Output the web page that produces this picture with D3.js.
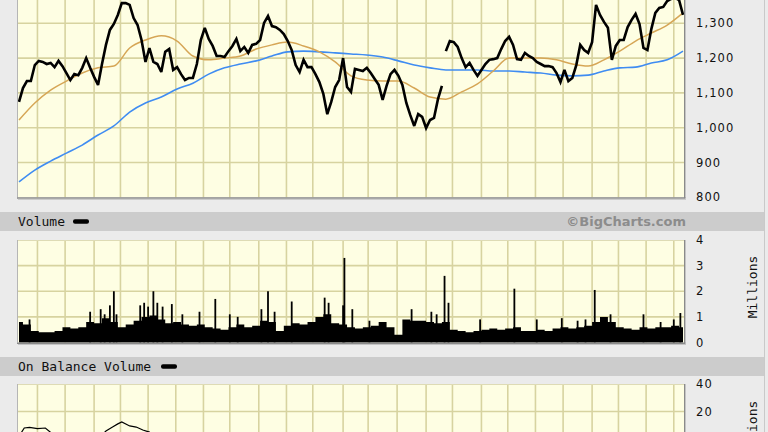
<!DOCTYPE html>
<html><head><meta charset="utf-8">
<script src="https://cdn.jsdelivr.net/npm/d3@7"></script>
<style>
html,body{margin:0;padding:0;background:#ebebeb;overflow:hidden}
svg{display:block}
</style></head><body>
<svg id="c" width="768" height="432"></svg>
<script>
// ---- data ----
const totalDays = 504;
const priceStepDays = 3;
const closes = [
1074,1114,1134,1134,1180,1192,1189,1183,1186,1174,
1192,1177,1157,1137,1154,1151,1172,1200,1172,1146,
1123,1183,1238,1281,1298,1324,1358,1358,1353,1315,
1295,1252,1189,1229,1189,1183,1160,1218,1226,1166,
1174,1154,1137,1143,1143,1183,1252,1287,1255,1235,
1206,1206,1203,1220,1235,1255,1220,1232,1215,1238,
1241,1252,1301,1321,1292,1289,1281,1269,1249,1223,
1180,1160,1195,1174,1174,1154,1131,1097,1039,1074,
1117,1137,1200,1117,1103,1169,1166,1163,1172,1157,
1140,1123,1080,1120,1154,1166,1149,1123,1071,1036,
1005,1039,1031,999,1022,1028,1082,1120,1220,1249,
1246,1232,1200,1174,1186,1166,1149,1166,1183,1195,
1197,1200,1226,1249,1261,1238,1197,1195,1215,1206,
1200,1189,1183,1177,1177,1174,1157,1131,1166,1134,
1143,1180,1238,1223,1215,1246,1353,1324,1304,1287,
1195,1235,1252,1252,1289,1310,1327,1298,1229,1223,
1284,1330,1344,1347,1364,1370,1373,1367,1324];
const priceGapAfterIndex = [107];
const maStepDays = 12;
const ma50 = [1022,1071,1108,1134,1157,1172,1177,1229,1252,1264,1249,1206,1195,1200,1206,1226,1238,1246,1235,1218,1189,1149,1137,1134,1134,1114,1088,1082,1103,1126,1163,1200,1200,1200,1195,1183,1177,1195,1220,1249,1272,1295,1330];
const ma200 = [844,878,904,927,950,979,1005,1045,1071,1088,1111,1128,1154,1172,1183,1192,1206,1218,1220,1218,1215,1212,1209,1203,1192,1180,1172,1166,1166,1166,1163,1163,1160,1157,1151,1149,1151,1163,1172,1174,1186,1195,1220];
const volStepDays = 6;
const volBase = [
0.8,0.7,0.45,0.4,0.4,0.45,0.6,0.55,0.6,0.8,
0.75,0.95,0.8,0.6,0.7,0.85,1.0,1.05,0.9,0.75,
0.8,0.7,0.65,0.7,0.6,0.55,0.5,0.6,0.7,0.6,
0.65,0.85,0.8,0.45,0.65,0.75,0.7,0.8,1.0,1.1,
0.75,0.7,0.6,0.55,0.6,0.65,0.8,0.6,0.3,0.9,
0.85,0.85,0.8,0.75,0.8,0.5,0.45,0.4,0.45,0.5,
0.55,0.5,0.55,0.6,0.45,0.45,0.5,0.45,0.55,0.6,
0.55,0.6,0.65,0.8,1.0,0.8,0.6,0.55,0.5,0.6,
0.55,0.6,0.6,0.65,0.6];
const volSpikeDays = [8,54,62,65,69,72,74,92,95,98,102,105,109,116,124,137,149,160,166,184,189,194,207,232,235,246,247,253,266,298,313,317,323,326,350,376,393,412,424,430,437,449,474,487,497,502];
const volSpikeValues = [0.9,1.2,1.3,1.1,1.45,2.0,1.1,1.45,1.55,1.4,2.0,1.55,1.4,1.5,1.1,1.2,1.7,1.1,1.0,1.3,2.0,1.2,1.6,1.75,1.55,1.45,3.3,1.3,0.85,1.3,1.2,1.1,2.6,1.55,0.9,2.1,0.9,0.95,0.85,0.9,2.05,1.1,1.1,0.8,0.9,1.15];
const obvDays = [0,4,8,14,20,25,35,50,62,66,71,75,78,84,89,94,99,110,200,350,504];
const obvValues = [2,8,8.5,7.5,8,4,0,-2,2,5.8,8.7,11,12.4,9.5,8.7,6.5,5,-3,-8,-12,-15];
const monthStartDays = [14,35,57,77,98,119,140,160,182,203,223,246,265,287,309,329,351,371,392,413,435,455,476,497];
const priceTicks = [800,900,1000,1100,1200,1300];
const priceGrid = [900,1000,1100,1200,1300,1400];
const volTicks = [0,1,2,3,4];
const obvTicks = [20,40];

// ---- drawing ----
const svg = d3.select("#c");
const L = 18, R = 684;
const x = d3.scaleLinear().domain([0, totalDays]).range([19, 683]);
const yP = d3.scaleLinear().domain([800, 1400]).range([197.3, -11.5]);
const yV = d3.scaleLinear().domain([0, 4]).range([342.5, 240]);
const yO = d3.scaleLinear().domain([20, 40]).range([411.5, 384]);

const plotBg = "#fefee3", gridC = "#d7d3a0";
const monoFont = "'DejaVu Sans Mono', monospace";
const sansFont = "'DejaVu Sans', Verdana, sans-serif";

function panel(top, bottom, yScale, hGrid) {
  const g = svg.append("g");
  g.append("rect").attr("x", L).attr("y", top).attr("width", R - L).attr("height", bottom - top).attr("fill", plotBg);
  g.selectAll(".vg").data(monthStartDays).join("line")
    .attr("x1", d => x(d)).attr("x2", d => x(d)).attr("y1", top).attr("y2", bottom)
    .attr("stroke", gridC).attr("stroke-width", 1.6);
  g.selectAll(".hg").data(hGrid).join("line")
    .attr("x1", L).attr("x2", R).attr("y1", d => yScale(d)).attr("y2", d => yScale(d))
    .attr("stroke", gridC).attr("stroke-width", 1.6);
  return g;
}
function borders(top, bottom) {
  svg.append("line").attr("x1", L - 0.5).attr("x2", L - 0.5).attr("y1", top).attr("y2", bottom).attr("stroke", "#b5b5b5").attr("stroke-width", 1);
  svg.append("line").attr("x1", L).attr("x2", R).attr("y1", top + 0.5).attr("y2", top + 0.5).attr("stroke", "#dedbb5").attr("stroke-width", 1);
  svg.append("line").attr("x1", R + 0.7).attr("x2", R + 0.7).attr("y1", top).attr("y2", bottom + 1).attr("stroke", "#8a8a8a").attr("stroke-width", 1.4);
  svg.append("line").attr("x1", L - 1).attr("x2", R + 1.4).attr("y1", bottom + 0.7).attr("y2", bottom + 0.7).attr("stroke", "#8a8a8a").attr("stroke-width", 1.4);
  svg.append("line").attr("x1", L).attr("x2", R + 2).attr("y1", bottom + 2).attr("y2", bottom + 2).attr("stroke", "#c4c4c4").attr("stroke-width", 1);
}
function rightAxis(scale, ticks, fmt) {
  const ax = d3.axisRight(scale).tickValues(ticks).tickSize(0).tickPadding(12).tickFormat(fmt);
  const g = svg.append("g").attr("transform", `translate(${R},0)`).call(ax);
  g.select(".domain").remove();
  g.selectAll("text").attr("fill", "#111").style("font-family", sansFont).style("font-size", "11.5px").style("letter-spacing", "1.1px");
}
function header(y, label, dashX, extra) {
  svg.append("rect").attr("x", 0).attr("y", y).attr("width", 764).attr("height", 19).attr("fill", "#cccccc");
  svg.append("text").attr("x", 18).attr("y", y + 13.7).text(label)
    .style("font-family", monoFont).style("font-size", "13px").attr("fill", "#111");
  svg.append("rect").attr("x", dashX).attr("y", y + 7.2).attr("width", 16).attr("height", 4.6).attr("rx", 2).attr("fill", "#000");
  if (extra) {
    svg.append("text").attr("x", 686).attr("y", y + 13.7).attr("text-anchor", "end").text(extra)
      .style("font-family", sansFont).style("font-size", "13px").style("font-weight", "bold").attr("fill", "#8c8c8c");
  }
}
function millions(cy) {
  svg.append("text").attr("transform", `translate(757,${cy}) rotate(-90)`).attr("text-anchor", "middle")
    .text("Millions").style("font-family", monoFont).style("font-size", "13px").attr("fill", "#111");
}

// right separator
svg.append("line").attr("x1", 764.5).attr("x2", 764.5).attr("y1", 0).attr("y2", 432).attr("stroke", "#c9c9c9");

// main price panel
const gm = panel(-20, 197.3, yP, priceGrid);
const maLine = d3.line().x((d, i) => x(i * maStepDays)).y(d => yP(d)).curve(d3.curveMonotoneX);
gm.append("path").attr("d", maLine(ma200)).attr("fill", "none").attr("stroke", "#3f8cf2").attr("stroke-width", 1.6);
gm.append("path").attr("d", maLine(ma50)).attr("fill", "none").attr("stroke", "#d6a656").attr("stroke-width", 1.5);
const pts = closes.map((v, i) => ({ d: i * priceStepDays, v, i }));
const segStarts = [0, ...priceGapAfterIndex.map(i => i + 1)];
const segEnds = [...priceGapAfterIndex, closes.length - 1];
const pLine = d3.line().x(p => x(p.d)).y(p => yP(p.v));
segStarts.forEach((s, k) => {
  gm.append("path").attr("d", pLine(pts.slice(s, segEnds[k] + 1))).attr("fill", "none")
    .attr("stroke", "#000").attr("stroke-width", 2.6).attr("stroke-linejoin", "miter").attr("stroke-miterlimit", 3);
});
borders(-20, 197.3);
rightAxis(yP, priceTicks, d3.format(","));

// volume panel
header(212, "Volume", 73, "\u00A9BigCharts.com");
const gv = panel(240, 342.5, yV, [1, 2, 3]);
const vArea = d3.area().x((d, i) => x(i * volStepDays)).y0(yV(0)).y1(d => yV(d)).curve(d3.curveStep);
gv.append("path").attr("d", vArea(volBase)).attr("fill", "#000");
gv.selectAll(".sp").data(volSpikeDays).join("rect")
  .attr("x", d => x(d) - 0.9).attr("width", 1.8)
  .attr("y", (d, i) => yV(volSpikeValues[i])).attr("height", (d, i) => yV(0) - yV(volSpikeValues[i]))
  .attr("fill", "#000");
borders(240, 342.5);
rightAxis(yV, volTicks, d3.format("d"));
millions(287);

// OBV panel
header(357, "On Balance Volume", 161);
const go = panel(384, 470, yO, [20, 0]);
const oLine = d3.line().x((d, i) => x(obvDays[i])).y(d => yO(d));
go.append("path").attr("d", oLine(obvValues)).attr("fill", "none").attr("stroke", "#000").attr("stroke-width", 1.2);
borders(384, 470);
rightAxis(yO, obvTicks, d3.format("d"));
millions(432);
</script>
</body></html>
